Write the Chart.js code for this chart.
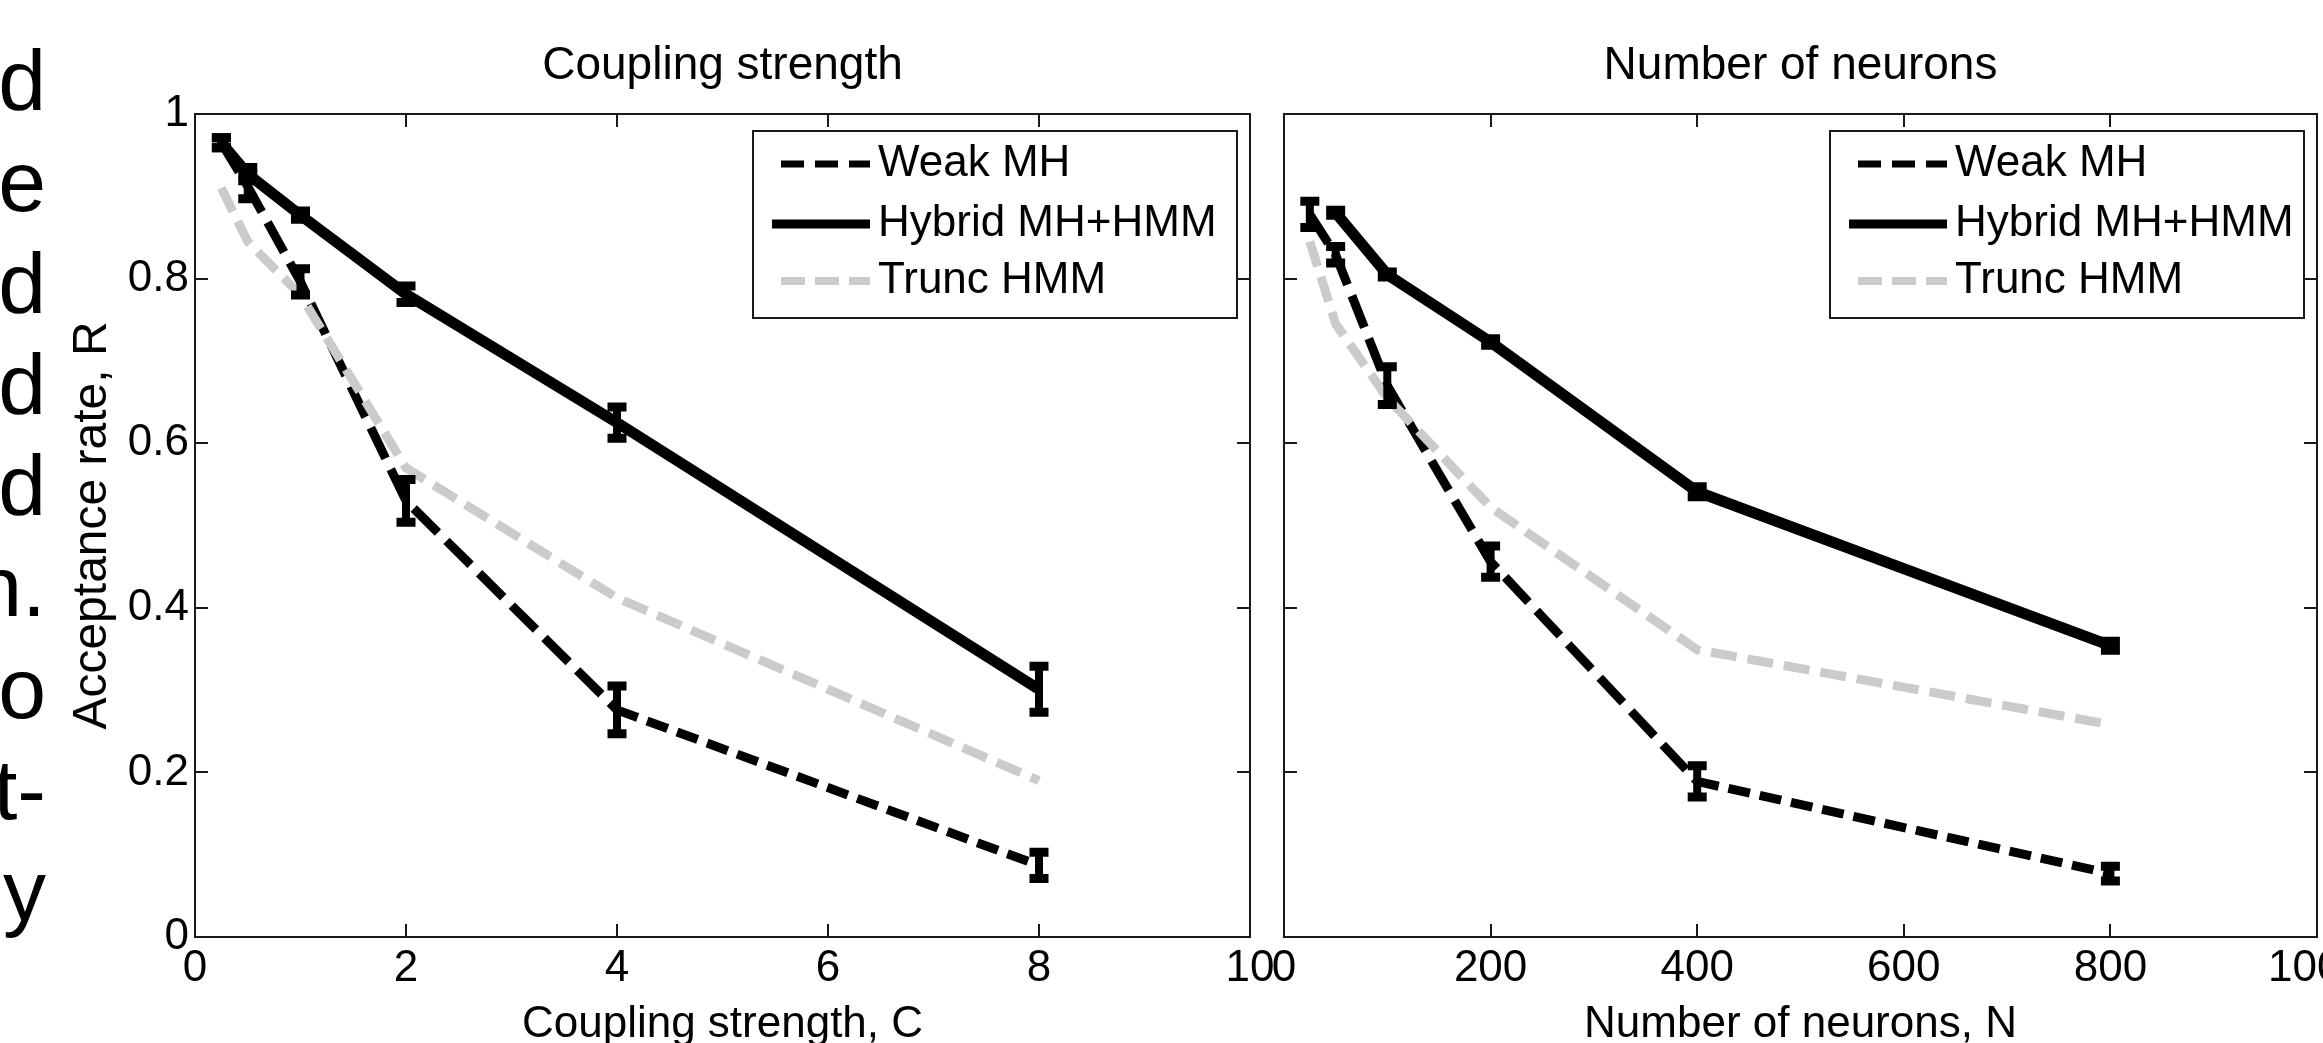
<!DOCTYPE html>
<html>
<head>
<meta charset="utf-8">
<script src="https://cdn.jsdelivr.net/npm/chart.js@4.4.0/dist/chart.umd.min.js"></script>
<style>
  html, body { margin: 0; padding: 0; background: #fff; }
  body { position: relative; width: 2323px; height: 1043px; overflow: hidden; }
  canvas { position: absolute; top: 0; }
  #left { left: 0; }
  #right { left: 1234px; }
  .frag { position: absolute; right: 2277px; font: 86px "Liberation Sans", Arial, sans-serif; line-height: 86px; white-space: nowrap; color: #000; }
</style>
</head>
<body>
<canvas id="left" width="1320" height="1043"></canvas>
<canvas id="right" width="1143" height="1043"></canvas>
<script>
// body text cut off at the left edge of the figure
const bodyText = ["d", "e", "d", "d", "d", "n.", "o", "t-", "y"];

const seriesNames = ["Weak MH", "Hybrid MH+HMM", "Trunc HMM"];

// coupling strength panel
const couplingC = [0.25, 0.5, 1, 2, 4, 8];
const weakC = [0.965, 0.912, 0.796, 0.530, 0.276, 0.087];
const weakErrC = [0.006, 0.015, 0.016, 0.026, 0.029, 0.016];
const hybridC = [0.965, 0.927, 0.877, 0.781, 0.625, 0.301];
const hybridErrC = [0.006, 0.008, 0.005, 0.010, 0.019, 0.028];
const truncC = [0.91, 0.845, 0.78, 0.57, 0.412, 0.19];

// number of neurons panel
const neuronsN = [25, 50, 100, 200, 400, 800];
const weakN = [0.878, 0.829, 0.670, 0.456, 0.189, 0.077];
const weakErrN = [0.016, 0.010, 0.023, 0.019, 0.019, 0.009];
const hybridNeurons = [50, 100, 200, 400, 800];
const hybridN = [0.880, 0.805, 0.723, 0.541, 0.354];
const hybridErrN = [0.003, 0.003, 0.004, 0.006, 0.0055];
const truncN = [0.845, 0.745, 0.655, 0.522, 0.349, 0.258];

const FONT = '"Liberation Sans", Arial, sans-serif';
const TICK = 13;

bodyText.forEach((t, i) => {
  const d = document.createElement('div');
  d.className = 'frag';
  d.textContent = t;
  d.style.top = (110 + 101.25 * i - 73) + 'px';
  document.body.appendChild(d);
});

Chart.defaults.font.family = FONT;
Chart.defaults.color = '#000';

const pts = (xs, ys) => xs.map((x, i) => ({ x: x, y: ys[i] }));

const errorBars = {
  id: 'errorBars',
  afterDatasetsDraw(chart) {
    const { ctx, scales: { x, y } } = chart;
    ctx.save();
    ctx.strokeStyle = '#000';
    chart.data.datasets.forEach(ds => {
      if (!ds.errors) return;
      ds.data.forEach((p, i) => {
        const e = ds.errors[i];
        const px = x.getPixelForValue(p.x);
        const top = y.getPixelForValue(p.y + e);
        const bot = y.getPixelForValue(p.y - e);
        ctx.lineWidth = 8;
        ctx.beginPath();
        ctx.moveTo(px, top);
        ctx.lineTo(px, bot);
        ctx.stroke();
        ctx.lineWidth = 9;
        ctx.beginPath();
        ctx.moveTo(px - 9.5, top);
        ctx.lineTo(px + 9.5, top);
        ctx.moveTo(px - 9.5, bot);
        ctx.lineTo(px + 9.5, bot);
        ctx.stroke();
      });
    });
    ctx.restore();
  }
};

const frame = {
  id: 'frame',
  afterDatasetsDraw(chart) {
    const { ctx, chartArea: a, scales: { x, y } } = chart;
    ctx.save();
    ctx.strokeStyle = '#1a1a1a';
    ctx.lineWidth = 2;
    ctx.beginPath();
    x.ticks.forEach(t => {
      const px = Math.round(x.getPixelForValue(t.value));
      ctx.moveTo(px, a.bottom); ctx.lineTo(px, a.bottom - TICK);
      ctx.moveTo(px, a.top); ctx.lineTo(px, a.top + TICK);
    });
    y.ticks.forEach(t => {
      const py = Math.round(y.getPixelForValue(t.value));
      ctx.moveTo(a.left, py); ctx.lineTo(a.left + TICK, py);
      ctx.moveTo(a.right, py); ctx.lineTo(a.right - TICK, py);
    });
    ctx.stroke();
    ctx.strokeRect(a.left, a.top, a.right - a.left, a.bottom - a.top);
    ctx.restore();
  }
};

const boxLegend = {
  id: 'boxLegend',
  afterDatasetsDraw(chart, args, opts) {
    const { ctx, chartArea: a } = chart;
    const w = opts.width, h = 187;
    const left = a.right - 13 - w, top = a.top + 17;
    const rows = [33, 93, 150];
    ctx.save();
    ctx.fillStyle = '#fff';
    ctx.fillRect(left, top, w, h);
    ctx.lineWidth = 2;
    ctx.strokeStyle = '#1a1a1a';
    ctx.strokeRect(left, top, w, h);
    ctx.font = '44px ' + FONT;
    ctx.textBaseline = 'middle';
    chart.data.datasets.forEach((ds, i) => {
      const cy = top + rows[i];
      ctx.strokeStyle = ds.borderColor;
      ctx.lineWidth = ds.legendWidth;
      ctx.setLineDash(ds.legendDash);
      ctx.beginPath();
      ctx.moveTo(left + (ds.legendDash.length ? 28 : 19), cy);
      ctx.lineTo(left + 117, cy);
      ctx.stroke();
      ctx.setLineDash([]);
      ctx.fillStyle = '#000';
      ctx.fillText(ds.label, left + 125, cy);
    });
    ctx.restore();
  }
};

const tickLabel = v => String(Math.round(v * 10) / 10);

function panel(id, p) {
  const lastWeak = p.weak.length - 1;
  return new Chart(document.getElementById(id), {
    type: 'line',
    data: {
      datasets: [
        {
          label: seriesNames[0], data: p.weak, borderColor: '#000', borderWidth: 9,
          borderDash: [34, 12],
          segment: { borderDash: c => (c.p1DataIndex === lastWeak ? [22, 10] : [34, 12]) },
          errors: p.weakErr, order: 2, legendDash: [23, 11], legendWidth: 7
        },
        {
          label: seriesNames[1], data: p.hybrid, borderColor: '#000', borderWidth: 11,
          errors: p.hybridErr, order: 1, legendDash: [], legendWidth: 9
        },
        {
          label: seriesNames[2], data: p.trunc, borderColor: '#cbcbcb', borderWidth: 9,
          borderDash: [26, 11], order: 0, legendDash: [24, 10], legendWidth: 8
        }
      ]
    },
    options: {
      responsive: false,
      animation: false,
      layout: { padding: p.padding },
      elements: { point: { radius: 0 }, line: { tension: 0, borderCapStyle: 'butt' } },
      plugins: {
        legend: { display: false },
        tooltip: { enabled: false },
        title: {
          display: true, text: p.title, fullSize: false, color: '#000',
          font: { size: 46, weight: 'normal', lineHeight: 1 },
          padding: { top: 43, bottom: 25 }
        },
        boxLegend: { width: p.legendWidth }
      },
      scales: {
        x: {
          type: 'linear', min: 0, max: p.xMax,
          ticks: { stepSize: p.xStep, callback: tickLabel, autoSkip: false, maxRotation: 0,
                   font: { size: 44, lineHeight: 1 }, padding: 2, color: '#000' },
          grid: { display: false }, border: { display: false },
          title: { display: true, text: p.xTitle, color: '#000',
                   font: { size: 44, lineHeight: 1 }, padding: { top: 0, bottom: -4 } },
          afterFit: s => { s.height = 106; }
        },
        y: {
          type: 'linear', min: 0, max: 1,
          ticks: { display: p.yLabels, stepSize: 0.2, callback: tickLabel,
                   font: { size: 44, lineHeight: 1 }, padding: -2, color: '#000' },
          grid: { display: false }, border: { display: false },
          title: { display: p.yLabels, text: 'Acceptance rate, R', color: '#000',
                   font: { size: 48, lineHeight: 1.2 }, padding: { top: 64, bottom: 0 } },
          afterFit: s => { s.width = p.yLabels ? 195 : 0; }
        }
      }
    },
    plugins: [errorBars, frame, boxLegend]
  });
}

panel('left', {
  title: 'Coupling strength', xTitle: 'Coupling strength, C', xMax: 10, xStep: 2,
  weak: pts(couplingC, weakC), weakErr: weakErrC,
  hybrid: pts(couplingC, hybridC), hybridErr: hybridErrC,
  trunc: pts(couplingC, truncC),
  yLabels: true, legendWidth: 484,
  padding: { left: 0, right: 70, top: 0, bottom: 0 }
});

panel('right', {
  title: 'Number of neurons', xTitle: 'Number of neurons, N', xMax: 1000, xStep: 200,
  weak: pts(neuronsN, weakN), weakErr: weakErrN,
  hybrid: pts(hybridNeurons, hybridN), hybridErr: hybridErrN,
  trunc: pts(neuronsN, truncN),
  yLabels: false, legendWidth: 474,
  padding: { left: 50, right: 60, top: 0, bottom: 0 }
});
</script>
</body>
</html>
